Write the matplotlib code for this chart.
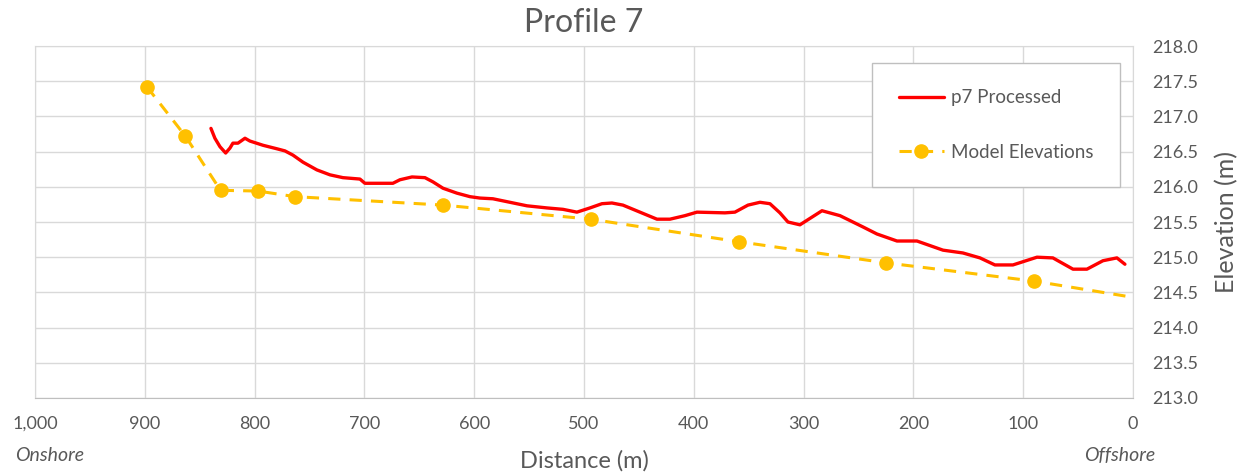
import matplotlib
matplotlib.use("Agg")
import matplotlib.pyplot as plt
from matplotlib.ticker import FuncFormatter, FormatStrFormatter

# Processed profile (distance m, elevation m)
p7_dist = [839.7, 836.1, 831.5, 826.3, 822.4, 819.7, 815.1, 808.7, 804.2, 792.3,
           779.6, 772.3, 765.0, 755.9, 743.2, 731.3, 719.5, 704.0, 699.5, 674.0,
           667.6, 656.6, 644.8, 637.5, 628.4, 615.7, 603.8, 594.7, 582.9, 567.4,
           551.9, 533.7, 519.1, 506.4, 494.5, 483.6, 474.5, 464.5, 449.0, 433.5,
           421.7, 408.0, 397.1, 371.6, 362.5, 350.6, 339.7, 330.6, 321.5, 314.2,
           303.3, 283.2, 266.8, 245.9, 233.2, 214.9, 196.7, 173.0, 154.8, 139.3,
           125.7, 109.3, 87.4, 72.9, 54.6, 41.9, 27.3, 14.6, 7.3]
p7_elev = [216.83, 216.69, 216.57, 216.48, 216.55, 216.62, 216.62, 216.69, 216.65, 216.59,
           216.54, 216.51, 216.45, 216.35, 216.24, 216.17, 216.13, 216.11, 216.05, 216.05,
           216.10, 216.14, 216.13, 216.07, 215.98, 215.91, 215.86, 215.84, 215.83, 215.78,
           215.73, 215.70, 215.68, 215.64, 215.70, 215.76, 215.77, 215.74, 215.64, 215.54,
           215.54, 215.59, 215.64, 215.63, 215.64, 215.74, 215.78, 215.76, 215.63, 215.50,
           215.46, 215.66, 215.59, 215.43, 215.33, 215.23, 215.23, 215.10, 215.06, 214.99,
           214.89, 214.89, 215.00, 214.99, 214.83, 214.83, 214.95, 214.99, 214.90]

# Model elevations
model_dist = [898, 863, 831, 797, 763, 628, 494, 359, 225, 90, 0]
model_elev = [217.42, 216.72, 215.95, 215.94, 215.86, 215.74, 215.54, 215.22, 214.92, 214.66, 214.43]

x_ticks = [1000, 900, 800, 700, 600, 500, 400, 300, 200, 100, 0]
y_ticks = [213.0, 213.5, 214.0, 214.5, 215.0, 215.5, 216.0, 216.5, 217.0, 217.5, 218.0]

txt = "#595959"
grid_c = "#d9d9d9"
plt.rcParams['font.family'] = ['Lato', 'DejaVu Sans']

fig = plt.figure(figsize=(12.39, 4.73), dpi=100)
ax = fig.add_axes([0.0282, 0.1586, 0.8862, 0.7441])

ax.plot(p7_dist, p7_elev, color="#ff0000", lw=2.4, label="p7 Processed",
        solid_capstyle="round", solid_joinstyle="round", zorder=3)
ax.plot(model_dist, model_elev, color="#ffc000", lw=2.2, ls=(0, (4, 3)),
        marker="o", markersize=9.5, markevery=list(range(len(model_dist) - 1)),
        label="Model Elevations", zorder=2)

ax.set_xlim(1000, 0)
ax.set_ylim(213.0, 218.0)
ax.set_xticks(x_ticks)
ax.set_yticks(y_ticks)
ax.xaxis.set_major_formatter(FuncFormatter(lambda v, p: f"{int(v):,}"))
ax.yaxis.set_major_formatter(FormatStrFormatter("%.1f"))
ax.yaxis.tick_right()
ax.yaxis.set_label_position("right")
ax.grid(True, color=grid_c, lw=1)
ax.set_axisbelow(True)
for s in ax.spines.values():
    s.set_color(grid_c)
ax.spines['bottom'].set_color("#bfbfbf")
ax.tick_params(axis='both', length=0, colors=txt, labelsize=13)
ax.tick_params(axis='x', pad=13)
ax.tick_params(axis='y', pad=14)

ax.set_title("Profile 7", fontsize=23, color=txt, pad=10)
ax.set_xlabel("Distance (m)", fontsize=17, color=txt, labelpad=13)
ax.set_ylabel("Elevation (m)", fontsize=18, color=txt, labelpad=12)

fig.text(15 / 1239, 1 - 455 / 473, "Onshore", fontsize=14, style="italic",
         color=txt, ha="left", va="center")
fig.text(1155 / 1239, 1 - 455 / 473, "Offshore", fontsize=14, style="italic",
         color=txt, ha="right", va="center")

leg = ax.legend(loc="upper right", bbox_to_anchor=(0.988, 0.952), borderaxespad=0,
                fontsize=13.5, labelspacing=2.0, handlelength=2.4, borderpad=1.4,
                handletextpad=0.4, fancybox=False, framealpha=1, edgecolor="#bfbfbf")
for t in leg.get_texts():
    t.set_color(txt)

fig.savefig("out.png", dpi=100)
